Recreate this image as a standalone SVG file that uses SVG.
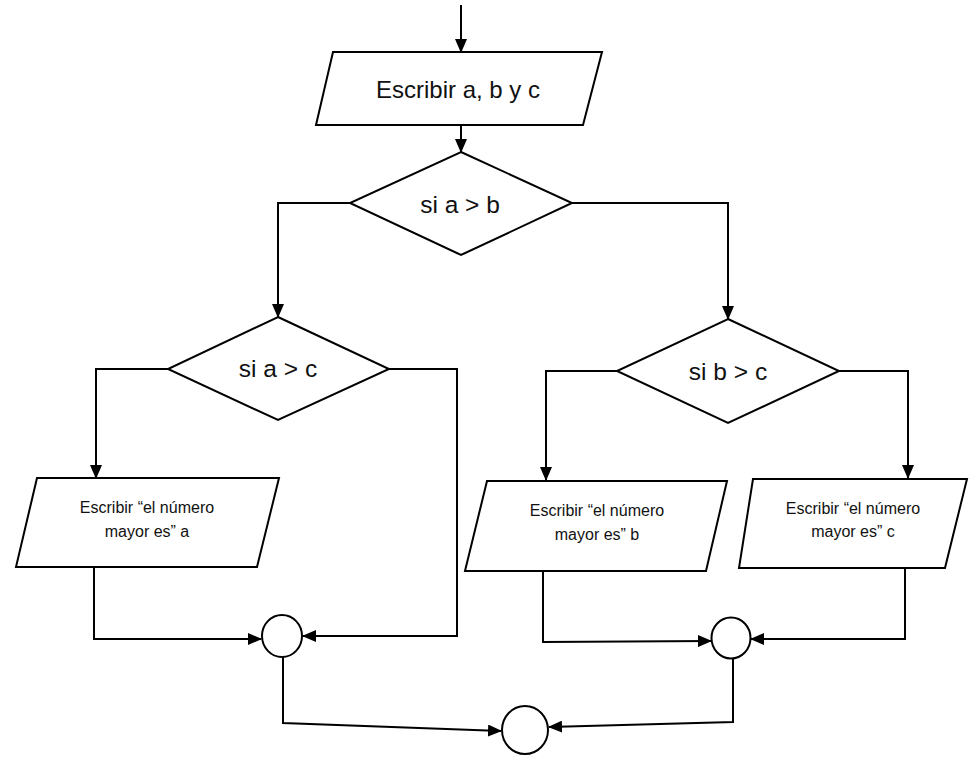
<svg xmlns="http://www.w3.org/2000/svg" width="980" height="764" viewBox="0 0 980 764">
<style>
.shape{fill:#fff;stroke:#000;stroke-width:2}
.conn{fill:none;stroke:#000;stroke-width:2;marker-end:url(#arr)}
.big{font-family:"Liberation Sans",Arial,sans-serif;font-size:24px;fill:#111;text-anchor:middle}
.dia{font-family:"Liberation Sans",Arial,sans-serif;font-size:24.5px;fill:#111;text-anchor:middle}
.small{font-family:"Liberation Sans",Arial,sans-serif;font-size:16px;fill:#111;text-anchor:middle}
</style>
<defs>
<marker id="arr" markerUnits="userSpaceOnUse" markerWidth="14" markerHeight="12" viewBox="0 0 14 12" refX="13" refY="6" orient="auto">
<path d="M0,0 L14,6 L0,12 Z" fill="#000"/>
</marker>
</defs>
<rect width="980" height="764" fill="#fff"/>
<g id="connectors">
<path class="conn" d="M461,5 L461,52"/>
<path class="conn" d="M461,125 L461,152"/>
<path class="conn" d="M350,203 L278,203 L278,317"/>
<path class="conn" d="M572,203 L728,203 L728,319"/>
<path class="conn" d="M168,369 L96,369 L96,478"/>
<path class="conn" d="M389,369 L457,369 L457,636 L303,636"/>
<path class="conn" d="M617,371 L546,371 L546,480"/>
<path class="conn" d="M839,371 L908,371 L908,478"/>
<path class="conn" d="M94,567 L94,639 L261,639"/>
<path class="conn" d="M543,571 L543,642 L711,641"/>
<path class="conn" d="M905,568 L905,639 L751,639"/>
<path class="conn" d="M283,657 L283,723 L501,731"/>
<path class="conn" d="M733,659 L733,722 L549,727"/>
</g>
<g id="input">
<polygon class="shape" points="333,52 602,52 583,125 316,125"/>
<text class="big" x="458" y="98">Escribir a, b y c</text>
</g>
<g id="dec1">
<polygon class="shape" points="461,152 572,203 461,255 350,203"/>
<text class="dia" x="460" y="213">si a &gt; b</text>
</g>
<g id="dec2">
<polygon class="shape" points="278,317 389,369 278,420 168,369"/>
<text class="dia" x="278" y="377">si a &gt; c</text>
</g>
<g id="dec3">
<polygon class="shape" points="728,319 839,371 728,423 617,371"/>
<text class="dia" x="728" y="380">si b &gt; c</text>
</g>
<g id="outA">
<polygon class="shape" points="37,478 279,478 257,567 16,567"/>
<text class="small" x="147" y="513">Escribir “el número</text>
<text class="small" x="147" y="537">mayor es” a</text>
</g>
<g id="outB">
<polygon class="shape" points="487,481 727,481 706,571 465,571"/>
<text class="small" x="597" y="516">Escribir “el número</text>
<text class="small" x="597" y="540">mayor es” b</text>
</g>
<g id="outC">
<polygon class="shape" points="753,479 967,479 945,568 739,568"/>
<text class="small" x="853" y="514">Escribir “el número</text>
<text class="small" x="853" y="537">mayor es” c</text>
</g>
<g id="join1">
<ellipse class="shape" cx="282" cy="636" rx="20" ry="21"/>
</g>
<g id="join2">
<ellipse class="shape" cx="731" cy="638" rx="19.5" ry="20.5"/>
</g>
<g id="joinEnd">
<ellipse class="shape" cx="525" cy="730" rx="23" ry="24"/>
</g>
</svg>
